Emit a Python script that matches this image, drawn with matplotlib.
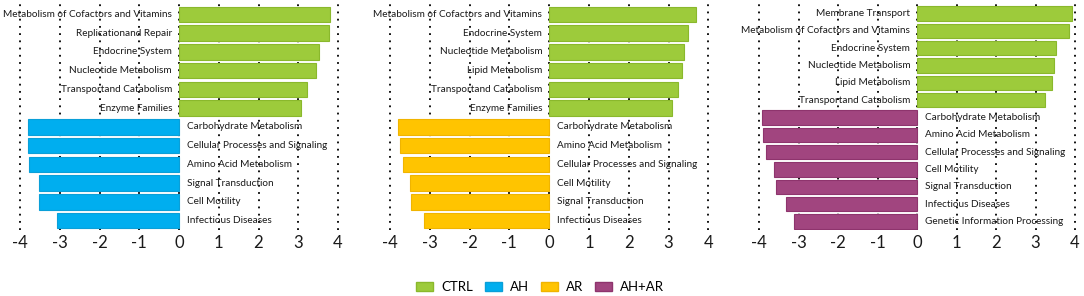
import matplotlib
matplotlib.use("Agg")
import matplotlib.pyplot as plt
from matplotlib.patches import Patch

plt.rcParams['font.family'] = ['Lato', 'DejaVu Sans']

# panel 1: CTRL vs AH
p1_up_labels = ["Metabolism of Cofactors and Vitamins", "Replicationand Repair", "Endocrine System",
                "Nucleotide Metabolism", "Transportand Catabolism", "Enzyme Families"]
p1_up_vals = [3.80, 3.78, 3.52, 3.45, 3.23, 3.07]
p1_down_labels = ["Carbohydrate Metabolism", "Cellular Processes and Signaling", "Amino Acid Metabolism",
                  "Signal Transduction", "Cell Motility", "Infectious Diseases"]
p1_down_vals = [-3.80, -3.80, -3.77, -3.52, -3.52, -3.07]

# panel 2: CTRL vs AR
p2_up_labels = ["Metabolism of Cofactors and Vitamins", "Endocrine System", "Nucleotide Metabolism",
                "Lipid Metabolism", "Transportand Catabolism", "Enzyme Families"]
p2_up_vals = [3.69, 3.50, 3.38, 3.33, 3.25, 3.10]
p2_down_labels = ["Carbohydrate Metabolism", "Amino Acid Metabolism", "Cellular Processes and Signaling",
                  "Cell Motility", "Signal Transduction", "Infectious Diseases"]
p2_down_vals = [-3.81, -3.76, -3.67, -3.49, -3.46, -3.14]

# panel 3: CTRL vs AH+AR
p3_up_labels = ["Membrane Transport", "Metabolism of Cofactors and Vitamins", "Endocrine System",
                "Nucleotide Metabolism", "Lipid Metabolism", "Transportand Catabolism"]
p3_up_vals = [3.92, 3.84, 3.53, 3.46, 3.42, 3.25]
p3_down_labels = ["Carbohydrate Metabolism", "Amino Acid Metabolism", "Cellular Processes and Signaling",
                  "Cell Motility", "Signal Transduction", "Infectious Diseases", "Genetic Information Processing"]
p3_down_vals = [-3.94, -3.91, -3.84, -3.63, -3.57, -3.32, -3.12]

groups = ["CTRL", "AH", "AR", "AH+AR"]
colors = {"CTRL": "#9dcb3b", "AH": "#00aeef", "AR": "#ffc400", "AH+AR": "#a1457f"}
edges = {"CTRL": "#8ab82c", "AH": "#0a9fd8", "AR": "#f0b400", "AH+AR": "#8e346d"}

panels = [
    (p1_up_labels, p1_up_vals, p1_down_labels, p1_down_vals, "AH"),
    (p2_up_labels, p2_up_vals, p2_down_labels, p2_down_vals, "AR"),
    (p3_up_labels, p3_up_vals, p3_down_labels, p3_down_vals, "AH+AR"),
]

W, H = 1084, 296
fig = plt.figure(figsize=(W / 100, H / 100), dpi=100)
# pixel extents of each panel's -4..4 axis
xspans = [(20, 338), (390, 708.3), (759.3, 1075)]
top_px, bot_px = 0, 230

for (ul, uv, dl, dv, grp), (x0, x1) in zip(panels, xspans):
    ax = fig.add_axes([x0 / W, 1 - bot_px / H, (x1 - x0) / W, (bot_px - top_px) / H])
    labels = ul + dl
    vals = uv + dv
    n = len(vals)
    cols = [colors["CTRL"]] * len(uv) + [colors[grp]] * len(dv)
    ecols = [edges["CTRL"]] * len(uv) + [edges[grp]] * len(dv)
    y = list(range(n))
    ax.barh(y, vals, height=0.83, color=cols, edgecolor=ecols, linewidth=0.8, zorder=3)
    for yi, v, lab in zip(y, vals, labels):
        if v > 0:
            ax.annotate(lab, (0, yi), xytext=(-5, 0), textcoords="offset points",
                        ha="right", va="center", fontsize=7.2, color="#1a1a1a", zorder=4)
        else:
            ax.annotate(lab, (0, yi), xytext=(5.5, 0), textcoords="offset points",
                        ha="left", va="center", fontsize=7.2, color="#1a1a1a", zorder=4)
    slot = (bot_px - top_px - 5) / n
    ax.set_ylim(n - 0.5, -0.5 - 5 / slot)
    ax.set_xlim(-4, 4)
    ax.set_xticks(range(-4, 5))
    ax.set_xticklabels([str(t) for t in range(-4, 5)])
    ax.set_yticks([])
    ax.tick_params(axis="x", length=0, pad=3.5, labelsize=12, colors="#1a1a1a")
    for t in range(-4, 5):
        ax.axvline(t, color="black", linestyle=(0, (1, 3)), linewidth=1.3, zorder=1, clip_on=False)
    for s in ax.spines.values():
        s.set_visible(False)

handles = [Patch(facecolor=colors[g], edgecolor=edges[g], label=g) for g in groups]
fig.legend(handles=handles, loc="center", bbox_to_anchor=(0.498, 0.03), ncol=4, frameon=False,
           fontsize=9.5, handlelength=1.3, handleheight=0.7, handletextpad=0.6, columnspacing=0.9)

fig.savefig("out.png", dpi=100)
